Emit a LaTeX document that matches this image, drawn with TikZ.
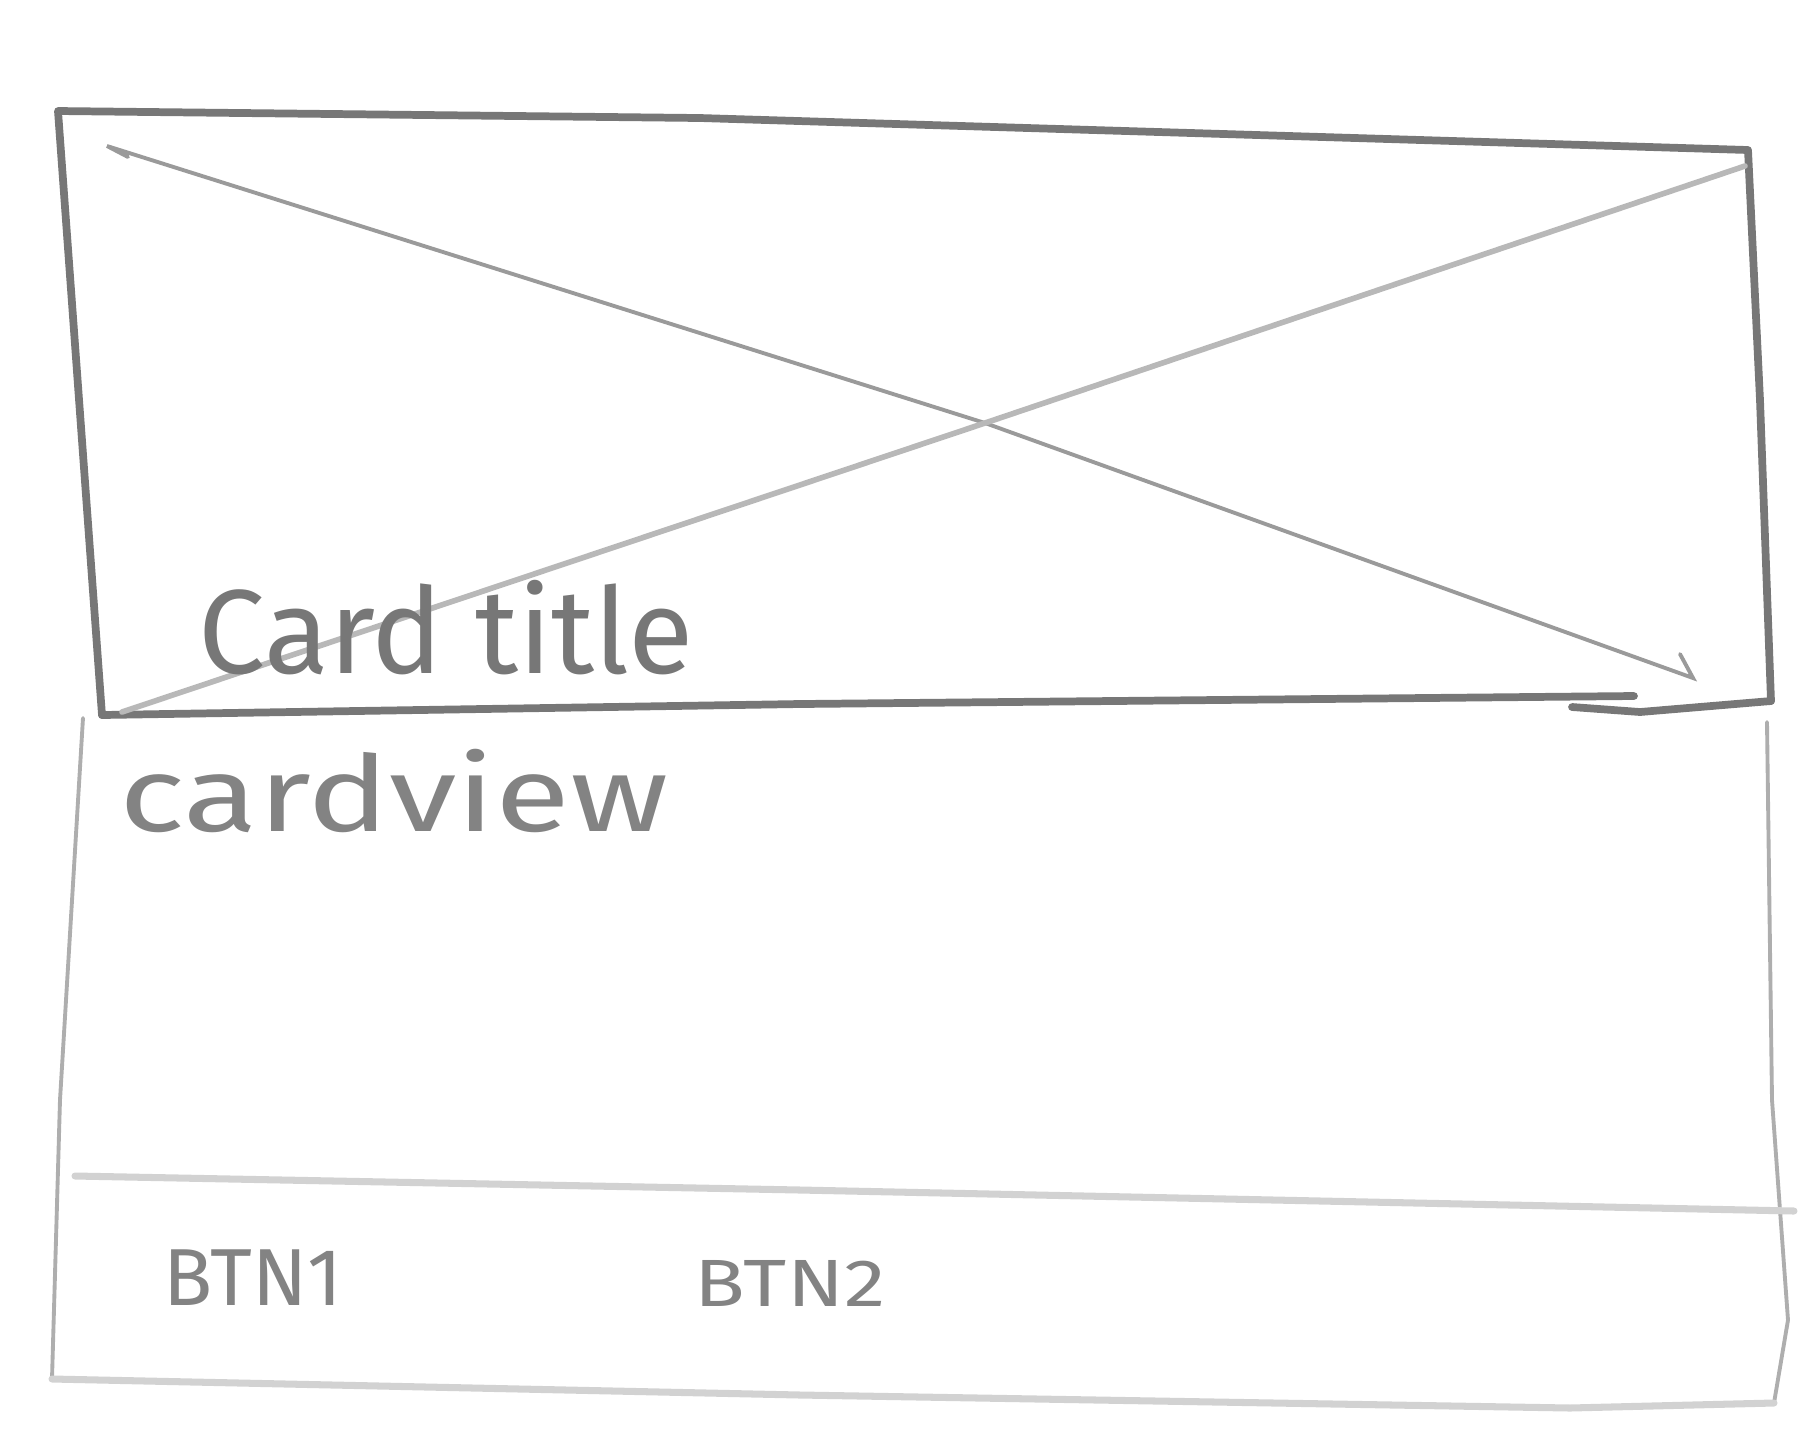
\documentclass[tikz,border=0pt]{standalone}
\usepackage{fontspec}
\setmainfont{Fira Sans}
\usetikzlibrary{calc}

\definecolor{pencildark}{HTML}{777777}
\definecolor{pencilmid}{HTML}{9A9A9A}
\definecolor{pencillight}{HTML}{B8B8B8}
\definecolor{pencilfaint}{HTML}{D2D2D2}

\tikzset{
	frame/.style={pencildark, line width=2.2pt, line cap=round, line join=round},
	cross/.style={pencilmid, line width=1.1pt, line cap=round},
	body/.style={pencilmid!80, line width=1.1pt, line cap=round},
	rule/.style={pencilfaint, line width=2pt, line cap=round},
	hand/.style={inner sep=0pt, text=#1},
	hand/.default=pencildark
}

\begin{document}
\begin{tikzpicture}[x=0.01cm, y=-0.01cm]
	% page in pixel units, y pointing down
	\useasboundingbox (0,0) rectangle (1817,1441);
	
	% Image placeholder
	\coordinate (A) at (58,111);
	\coordinate (B) at (1748,150);
	\coordinate (C) at (1771,701);
	\coordinate (D) at (102,715);
	\coordinate (X) at (985,423); % where the cross meets
	
	\draw[frame] (D) -- (A) -- (700,118) -- (B) -- (1760,400) -- (C);
	\draw[frame] (D) -- (800,704) -- (1634,696);
	\draw[frame] (1572,707) -- (1640,712) -- (C);
	
	% the cross through the image
	\draw[cross] (128,157) -- (107,146) -- (X) -- (1693,678) -- (1680,654);
	\draw[pencillight, line width=1.6pt, line cap=round] (1745,166) -- (X) -- (122,712);
	
	% Card body
	\coordinate (E) at (83,718);
	\coordinate (F) at (52,1379);
	\coordinate (G) at (1767,722);
	\coordinate (H) at (1774,1403);
	
	\draw[body] (E) -- (60,1100) -- (F);
	\draw[body] (G) -- (1772,1100) -- (1788,1320) -- (H);
	
	% divider above the buttons, and bottom edge
	\draw[rule] (75,1176) -- (800,1190) -- (1794,1211);
	\draw[rule] (F) -- (800,1395) -- (1570,1408) -- (H);
	
	% Labels
	\node[hand, font=\fontsize{34}{40}\selectfont] (title) at (446,628) {Card title};
	\node[hand=pencilmid!85!black, font=\fontsize{30}{36}\selectfont] (view) at (394,791)
	{\scalebox{1.3}[1]{cardview}};
	\node[hand=pencilmid!85!black, font=\fontsize{23}{28}\selectfont] (btnone) at (253,1278) {BTN1};
	\node[hand=pencilmid!85!black, font=\fontsize{19}{24}\selectfont] (btntwo) at (790,1283)
	{\scalebox{1.25}[1]{BTN2}};
\end{tikzpicture}
\end{document}
